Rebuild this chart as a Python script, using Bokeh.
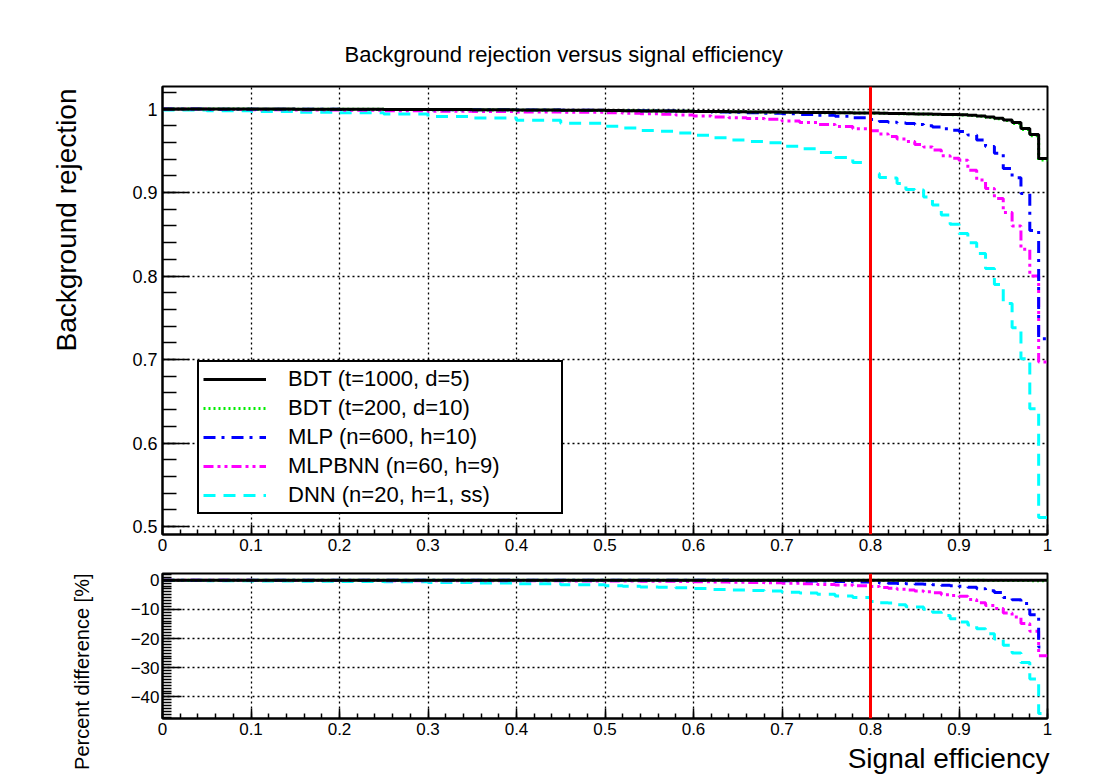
import numpy as np
from bokeh.plotting import figure
from bokeh.layouts import column
from bokeh.models import (Range1d, FixedTicker, CustomJSTickFormatter, Span, Title,
                          Legend, LegendItem)
from bokeh.embed import file_html
from bokeh.resources import INLINE

# ---------------- data ----------------
eff = [0.00, 0.05, 0.10, 0.15, 0.20, 0.25, 0.30, 0.35, 0.40, 0.45,
       0.50, 0.52, 0.54, 0.56, 0.58, 0.60, 0.62, 0.64, 0.66, 0.68,
       0.70, 0.72, 0.74, 0.76, 0.78,
       0.80, 0.81, 0.82, 0.83, 0.84, 0.85, 0.86, 0.87, 0.88, 0.89,
       0.90, 0.91, 0.92, 0.93, 0.94, 0.95, 0.96, 0.97, 0.98, 0.99]

bdt_t1000 = [1.0000, 1.0000, 1.0000, 0.9999, 0.9998, 0.9996, 0.9994, 0.9991, 0.9988, 0.9985,
             0.9982, 0.9980, 0.9978, 0.9976, 0.9974, 0.9972, 0.9970, 0.9968, 0.9966, 0.9964,
             0.9962, 0.9960, 0.9958, 0.9956, 0.9954,
             0.9952, 0.9950, 0.9948, 0.9946, 0.9944, 0.9942, 0.9940, 0.9938, 0.9936, 0.9934,
             0.9932, 0.9926, 0.9918, 0.9906, 0.9890, 0.9870, 0.9838, 0.9766, 0.9695, 0.9407]

bdt_t200 = [1.0000, 1.0000, 0.9999, 0.9998, 0.9997, 0.9995, 0.9993, 0.9990, 0.9987, 0.9984,
            0.9981, 0.9979, 0.9977, 0.9975, 0.9973, 0.9971, 0.9969, 0.9967, 0.9965, 0.9963,
            0.9961, 0.9959, 0.9957, 0.9955, 0.9953,
            0.9951, 0.9949, 0.9947, 0.9945, 0.9943, 0.9941, 0.9938, 0.9936, 0.9934, 0.9932,
            0.9930, 0.9923, 0.9914, 0.9900, 0.9884, 0.9862, 0.9828, 0.9755, 0.9680, 0.9390]

mlp = [1.0000, 0.9999, 0.9998, 0.9997, 0.9996, 0.9995, 0.9993, 0.9991, 0.9989, 0.9987,
       0.9984, 0.9982, 0.9980, 0.9977, 0.9974, 0.9970, 0.9966, 0.9961, 0.9956, 0.9950,
       0.9944, 0.9936, 0.9927, 0.9915, 0.9895,
       0.9875, 0.9852, 0.9842, 0.9832, 0.9826, 0.9814, 0.9800, 0.9785, 0.9765, 0.9745,
       0.9730, 0.9690, 0.9630, 0.9550, 0.9470, 0.9287, 0.9176, 0.8990, 0.8545, 0.7250]

mlpbnn = [1.0000, 0.9996, 0.9993, 0.9990, 0.9985, 0.9980, 0.9975, 0.9970, 0.9966, 0.9961,
          0.9955, 0.9950, 0.9945, 0.9938, 0.9928, 0.9918, 0.9906, 0.9896, 0.9888, 0.9878,
          0.9856, 0.9838, 0.9815, 0.9790, 0.9765,
          0.9740, 0.9700, 0.9670, 0.9640, 0.9610, 0.9575, 0.9545, 0.9510, 0.9440, 0.9410,
          0.9387, 0.9267, 0.9150, 0.9050, 0.8930, 0.8760, 0.8600, 0.8320, 0.8000, 0.6970]

dnn = [0.9990, 0.9980, 0.9970, 0.9963, 0.9956, 0.9940, 0.9912, 0.9893, 0.9866, 0.9830,
       0.9795, 0.9772, 0.9742, 0.9733, 0.9712, 0.9685, 0.9655, 0.9630, 0.9612, 0.9595,
       0.9555, 0.9525, 0.9480, 0.9420, 0.9360,
       0.9228, 0.9180, 0.9175, 0.9108, 0.9036, 0.9030, 0.8948, 0.8850, 0.8730, 0.8620,
       0.8510, 0.8400, 0.8270, 0.8090, 0.7900, 0.7670, 0.7380, 0.7010, 0.6410, 0.5110]

series_labels = ["BDT (t=1000, d=5)", "BDT (t=200, d=10)", "MLP (n=600, h=10)",
                 "MLPBNN (n=60, h=9)", "DNN (n=20, h=1, ss)"]

x_ticks = [0.0, 0.1, 0.2, 0.3, 0.4, 0.5, 0.6, 0.7, 0.8, 0.9, 1.0]
y_ticks_main = [0.5, 0.6, 0.7, 0.8, 0.9, 1.0]
y_ticks_diff = [-40, -30, -20, -10, 0]
cut_value = 0.8

# ---------------- styles ----------------
FONT = "Liberation Sans"
styles = [
    dict(color="#000000", dash="solid"),
    dict(color="#00ee00", dash="2 3"),
    dict(color="#0000ff", dash="12 6 3 7"),
    dict(color="#ff00ff", dash="10 4 3 4 3 4"),
    dict(color="#00ffff", dash="12 8"),
]
curves = [bdt_t1000, bdt_t200, mlp, mlpbnn, dnn]
draw_order = [4, 3, 2, 1, 0]

x_edges = eff + [1.0]
ref = np.array(bdt_t1000)

FMT_DEC = """
const r = Math.round(tick * 10) / 10;
if (Math.abs(r - Math.round(r)) < 1e-9) { return Math.round(r).toString(); }
return r.toFixed(1);
"""
FMT_INT = """
const r = Math.round(tick);
if (r == 0) { return "0"; }
return (r < 0 ? "\\u2212" : "") + Math.abs(r).toString();
"""

W = 1086
FRAME_L = 162
FRAME_W = 885
H1 = 564
H2 = 218


def style_fig(p):
    p.background_fill_color = "white"
    p.border_fill_color = "white"
    p.outline_line_color = "black"
    p.outline_line_width = 2
    for g in (p.xgrid[0], p.ygrid[0]):
        g.grid_line_color = "black"
        g.grid_line_dash = "2 3"
        g.grid_line_width = 1.3
    for ax in (p.xaxis[0], p.yaxis[0]):
        ax.axis_line_color = "black"
        ax.axis_line_width = 2
        ax.major_tick_line_color = "black"
        ax.minor_tick_line_color = "black"
        ax.major_tick_line_width = 1.5
        ax.minor_tick_line_width = 1.5
        ax.major_tick_out = 0
        ax.minor_tick_out = 0
        ax.major_label_text_font = FONT
        ax.major_label_text_color = "black"


def side_title(text, size, align, offset, standoff):
    return Title(text=text, align=align, offset=offset, standoff=standoff,
                 text_font=FONT, text_font_size=size, text_font_style="normal",
                 text_color="black")


# ---------------- main panel ----------------
p1 = figure(width=W, height=H1, x_range=Range1d(0, 1), y_range=Range1d(0.4905, 1.027),
            output_backend="svg", toolbar_location=None,
            min_border_left=FRAME_L, min_border_right=W - FRAME_L - FRAME_W,
            min_border_top=86, min_border_bottom=30)
style_fig(p1)

x_minor = [round(v, 2) for v in np.arange(0.0, 1.0001, 0.02)]
p1.xaxis[0].ticker = FixedTicker(ticks=x_ticks, minor_ticks=x_minor)
p1.yaxis[0].ticker = FixedTicker(ticks=y_ticks_main,
                                 minor_ticks=[round(v, 2) for v in np.arange(0.5, 1.0201, 0.02)])
p1.xaxis[0].formatter = CustomJSTickFormatter(code=FMT_DEC)
p1.yaxis[0].formatter = CustomJSTickFormatter(code=FMT_DEC)
p1.yaxis[0].major_tick_in = 27
p1.yaxis[0].minor_tick_in = 14
p1.xaxis[0].major_tick_in = 10
p1.xaxis[0].minor_tick_in = 5
p1.yaxis[0].major_label_text_font_size = "18px"
p1.xaxis[0].major_label_text_font_size = "17px"
p1.yaxis[0].major_label_standoff = 5
p1.xaxis[0].major_label_standoff = 4

p1.title = side_title("Background rejection versus signal efficiency", "22px", "left", 182, 40)
p1.add_layout(side_title("Background rejection", "28px", "right", 2, 96), "left")

renderers = {}
for i in draw_order:
    st = styles[i]
    ys = curves[i] + [curves[i][-1]]
    r = p1.step(x_edges, ys, mode="after", line_color=st["color"], line_dash=st["dash"],
                line_width=3)
    renderers[i] = r

p1.add_layout(Span(location=cut_value, dimension="height", line_color="#ff0000", line_width=3))

legend = Legend(items=[LegendItem(label=series_labels[i], renderers=[renderers[i]]) for i in range(5)],
                location=(35, 20), margin=0, padding=4, spacing=3,
                glyph_width=63, glyph_height=20, label_standoff=22, label_width=269,
                label_height=20,
                label_text_font=FONT, label_text_font_size="22px", label_text_color="black",
                border_line_color="black", border_line_width=2, border_line_alpha=1.0,
                background_fill_color="white", background_fill_alpha=1.0)
p1.add_layout(legend)

# ---------------- percent difference panel ----------------
p2 = figure(width=W, height=H2, x_range=Range1d(0, 1), y_range=Range1d(-47.4, 2.3),
            output_backend="svg", toolbar_location=None,
            min_border_left=FRAME_L, min_border_right=W - FRAME_L - FRAME_W,
            min_border_top=9, min_border_bottom=H2 - 9 - 145)
style_fig(p2)
p2.xaxis[0].ticker = FixedTicker(ticks=x_ticks, minor_ticks=x_minor)
p2.yaxis[0].ticker = FixedTicker(ticks=y_ticks_diff, minor_ticks=list(range(-47, 3)))
p2.xaxis[0].formatter = CustomJSTickFormatter(code=FMT_DEC)
p2.yaxis[0].formatter = CustomJSTickFormatter(code=FMT_INT)
p2.yaxis[0].major_tick_in = 19
p2.yaxis[0].minor_tick_in = 9
p2.xaxis[0].major_tick_in = 10
p2.xaxis[0].minor_tick_in = 5
p2.yaxis[0].major_label_text_font_size = "17px"
p2.xaxis[0].major_label_text_font_size = "17px"
p2.yaxis[0].major_label_standoff = 3
p2.xaxis[0].major_label_standoff = 4

p2.add_layout(side_title("Percent difference [%]", "20px", "right", 0, 70), "left")
p2.add_layout(side_title("Signal efficiency", "28px", "right", -2, 7), "below")

for i in draw_order:
    st = styles[i]
    pct = (100.0 * (np.array(curves[i]) - ref) / ref).tolist()
    ys = pct + [pct[-1]]
    p2.step(x_edges, ys, mode="after", line_color=st["color"], line_dash=st["dash"], line_width=3)

p2.add_layout(Span(location=cut_value, dimension="height", line_color="#ff0000", line_width=3))

layout = column(p1, p2, spacing=0)

with open("out.html", "w", encoding="utf-8") as f:
    f.write(file_html(layout, INLINE))
